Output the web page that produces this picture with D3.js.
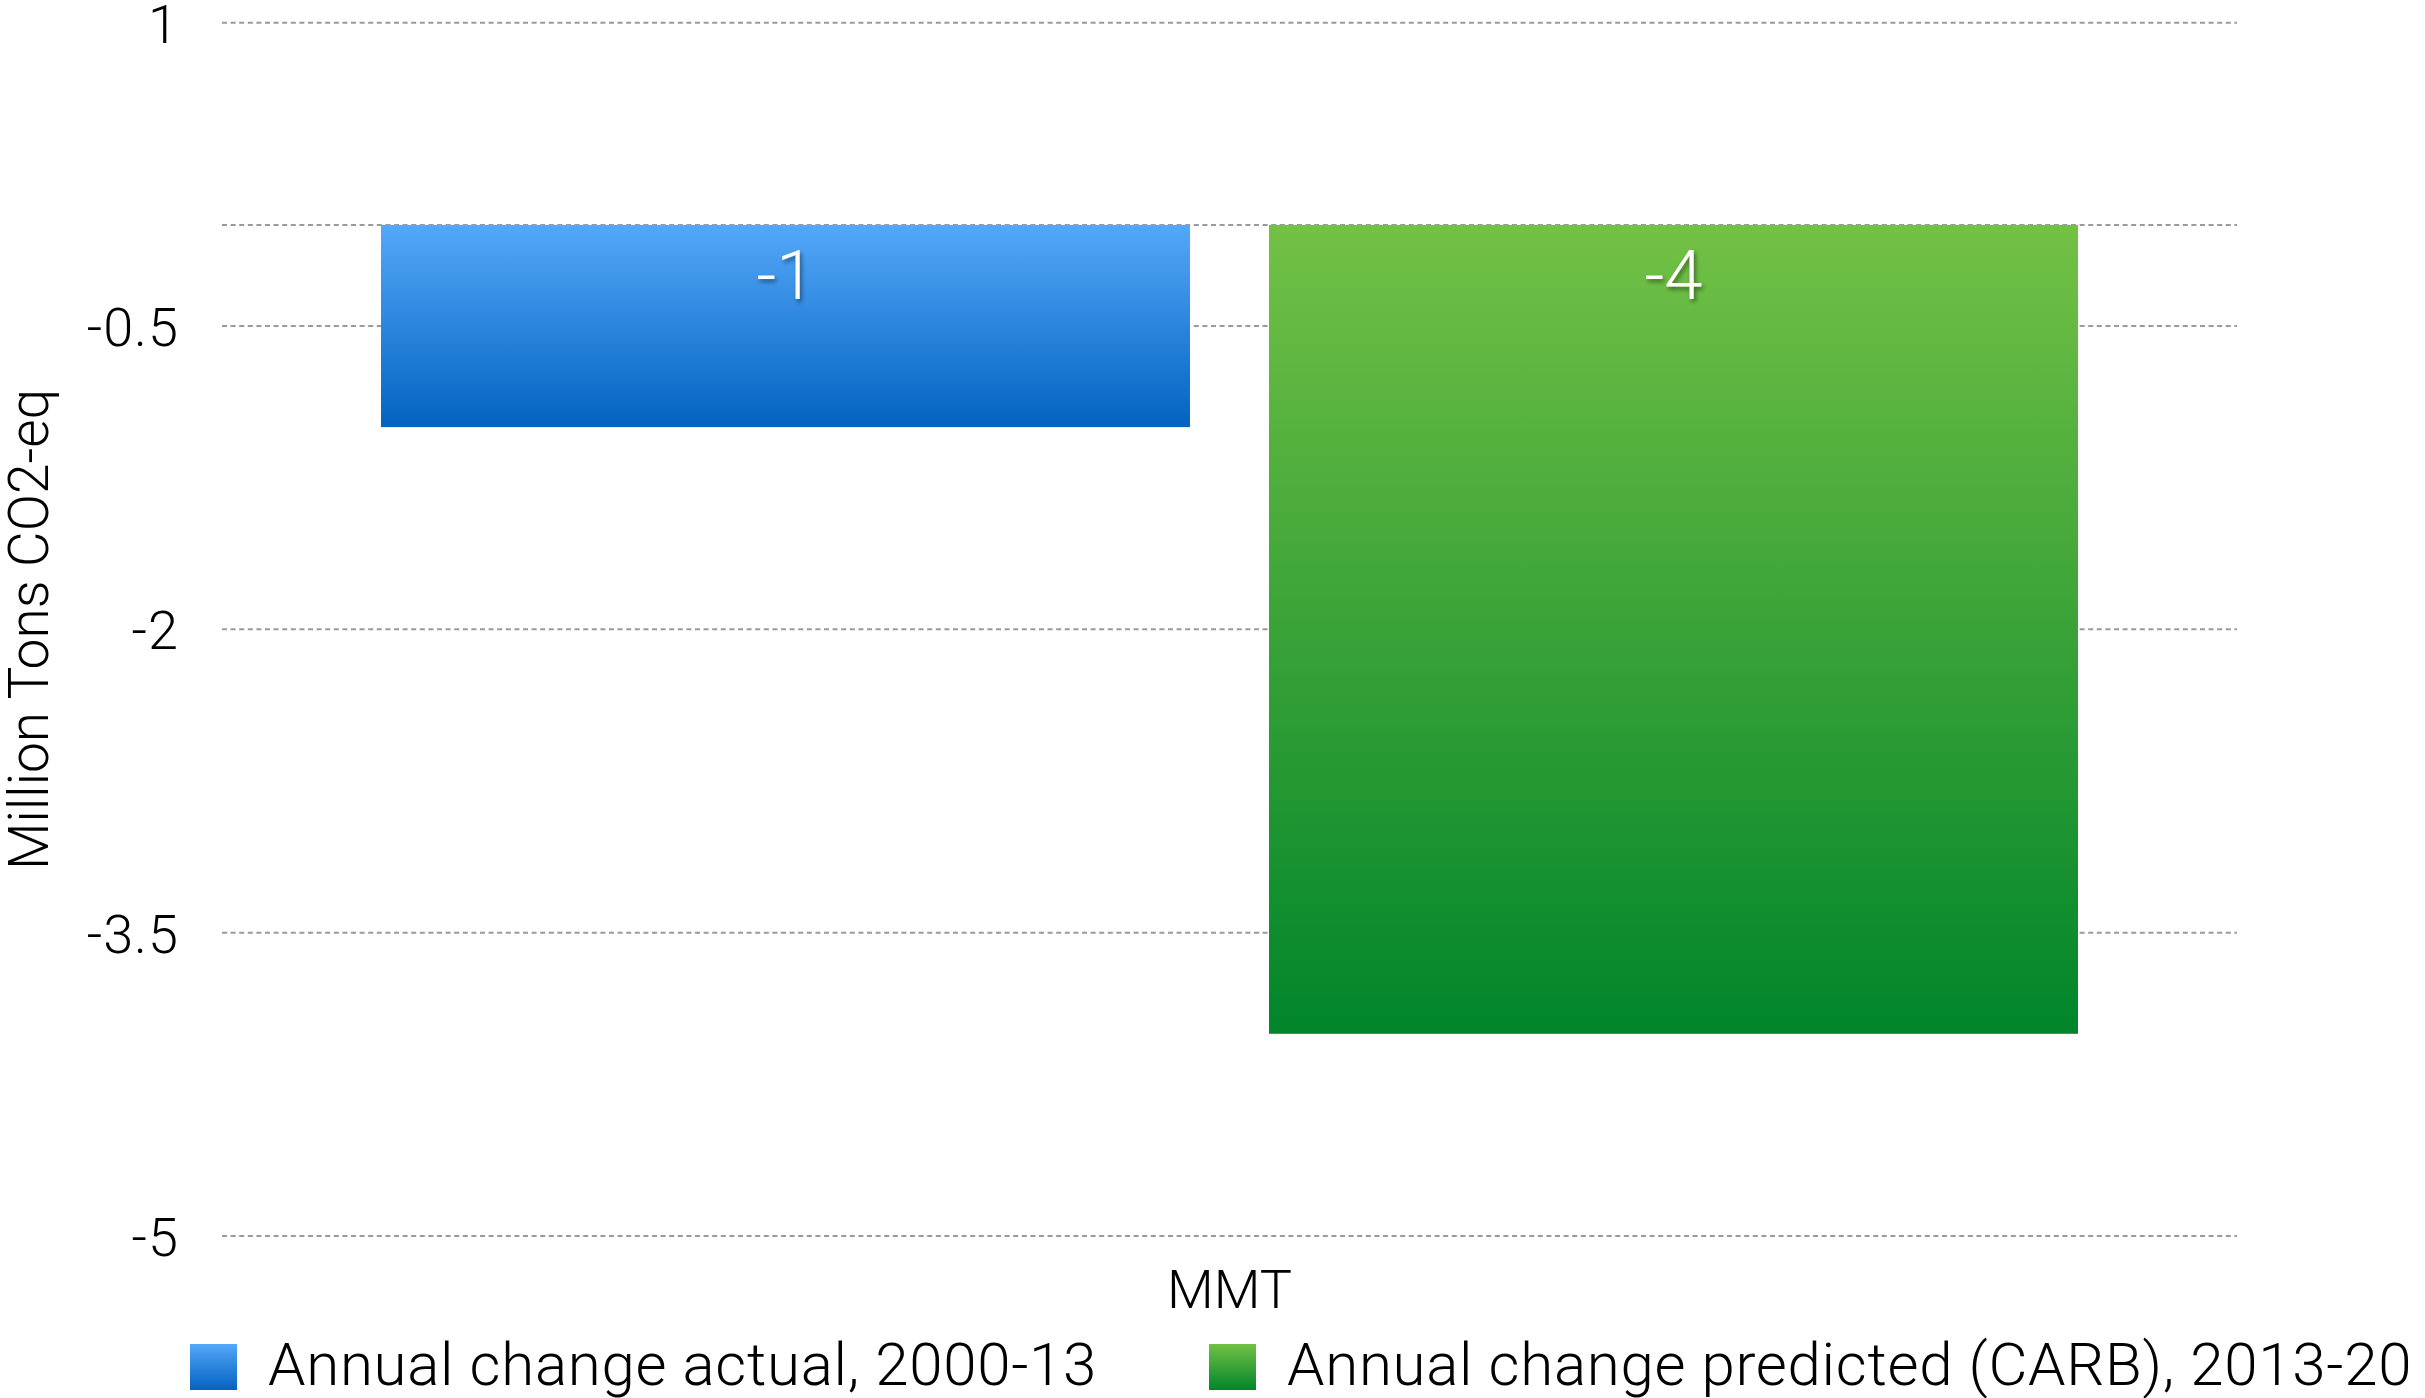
<!DOCTYPE html>
<html>
<head>
<meta charset="utf-8">
<script src="https://cdn.jsdelivr.net/npm/d3@7"></script>
<style>
  html, body { margin: 0; padding: 0; background: #fff; }
  svg { display: block; }
  text { font-family: Roboto, "Liberation Sans", sans-serif; font-weight: 300; fill: #000; }
</style>
</head>
<body>
<svg id="chart" width="2425" height="1398"></svg>
<script>
// Chart data
const categories = ["MMT"];
const seriesNames = ["Annual change actual, 2000-13", "Annual change predicted (CARB), 2013-20"];
const seriesValues = [-1, -4];
const tickValues = [1, -0.5, -2, -3.5, -5];
const gridValues = [1, 0, -0.5, -2, -3.5, -5];
const yTitle = "Million Tons CO2-eq";

const width = 2425, height = 1398;
const plot = { left: 222, right: 2237, top: 22.7, bottom: 1236 };

const svg = d3.select("#chart");
const defs = svg.append("defs");

const palettes = [
  { top: "#53a8f9", bottom: "#0462c0" },
  { top: "#73c145", bottom: "#00852a" }
];
palettes.forEach((p, i) => {
  const g = defs.append("linearGradient")
    .attr("id", "grad" + i)
    .attr("x1", 0).attr("y1", 0).attr("x2", 0).attr("y2", 1);
  g.append("stop").attr("offset", "0%").attr("stop-color", p.top);
  g.append("stop").attr("offset", "100%").attr("stop-color", p.bottom);
});

const shadow = defs.append("filter").attr("id", "labelShadow")
  .attr("x", "-50%").attr("y", "-50%").attr("width", "200%").attr("height", "200%");
shadow.append("feDropShadow")
  .attr("dx", 2).attr("dy", 3).attr("stdDeviation", 2)
  .attr("flood-color", "#000").attr("flood-opacity", 0.45);

const y = d3.scaleLinear().domain([-5, 1]).range([plot.bottom, plot.top]);

const x0 = d3.scaleBand().domain(categories)
  .range([plot.left, plot.right]).paddingInner(0).paddingOuter(0.0937);
const x1 = d3.scaleBand().domain(d3.range(seriesValues.length))
  .range([0, x0.bandwidth()]).paddingInner(0.089).paddingOuter(0);

// Dashed gridlines
svg.append("g").selectAll("line")
  .data(gridValues)
  .join("line")
  .attr("x1", plot.left).attr("x2", plot.right)
  .attr("y1", d => y(d)).attr("y2", d => y(d))
  .attr("stroke", "#9a9a9a")
  .attr("stroke-width", 2)
  .attr("stroke-dasharray", "5,3.6");

// Y axis labels
const yAxis = d3.axisLeft(y).tickValues(tickValues).tickSize(0).tickPadding(0)
  .tickFormat(d => String(d).replace("\u2212", "-"));
const yAxisG = svg.append("g")
  .attr("transform", `translate(${179},0)`)
  .call(yAxis);
yAxisG.select(".domain").remove();
yAxisG.selectAll("text")
  .attr("font-size", 54)
  .attr("letter-spacing", 1)
  .attr("font-family", "Roboto, 'Liberation Sans', sans-serif")
  .attr("font-weight", 300)
  .attr("fill", "#000")
  .attr("dy", "0.36em");

// Y axis title
svg.append("text")
  .attr("transform", `translate(48,${(plot.top + plot.bottom) / 2}) rotate(-90)`)
  .attr("text-anchor", "middle")
  .attr("font-size", 55)
  .text(yTitle);

// Bars
const group = svg.append("g").selectAll("g")
  .data(categories)
  .join("g")
  .attr("transform", d => `translate(${x0(d)},0)`);

group.selectAll("rect")
  .data(seriesValues.map((v, i) => ({ v, i })))
  .join("rect")
  .attr("x", d => x1(d.i))
  .attr("width", x1.bandwidth())
  .attr("y", d => y(Math.max(0, d.v)))
  .attr("height", d => Math.abs(y(d.v) - y(0)))
  .attr("fill", d => `url(#grad${d.i})`);

group.selectAll("text.value")
  .data(seriesValues.map((v, i) => ({ v, i })))
  .join("text")
  .attr("class", "value")
  .attr("x", d => x1(d.i) + x1.bandwidth() / 2)
  .attr("y", y(0) + 74)
  .attr("text-anchor", "middle")
  .attr("font-size", 69)
  .style("fill", "#fff")
  .attr("filter", "url(#labelShadow)")
  .text(d => String(d.v));

// Category label
svg.append("text")
  .attr("x", x0(categories[0]) + x0.bandwidth() / 2)
  .attr("y", 1308)
  .attr("text-anchor", "middle")
  .attr("font-size", 54)
  .text(categories[0]);

// Legend
const legendX = [190, 1209];
const legend = svg.append("g").selectAll("g")
  .data(seriesNames)
  .join("g")
  .attr("transform", (d, i) => `translate(${legendX[i]},1344)`);
legend.append("rect")
  .attr("width", 47).attr("height", 46)
  .attr("fill", (d, i) => `url(#grad${i})`);
legend.append("text")
  .attr("x", 78).attr("y", 41)
  .attr("font-size", 60)
  .attr("letter-spacing", 0.7)
  .text(d => d);
</script>
</body>
</html>
